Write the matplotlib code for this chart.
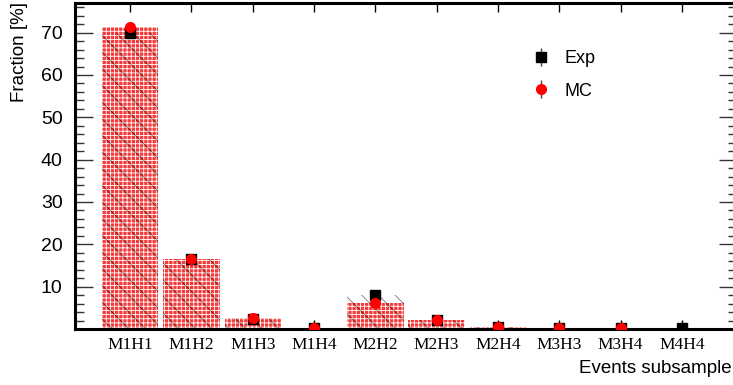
import numpy as np
import matplotlib
matplotlib.use("Agg")
import matplotlib.pyplot as plt

categories = ["M1H1", "M1H2", "M1H3", "M1H4", "M2H2", "M2H3", "M2H4", "M3H3", "M3H4", "M4H4"]
exp_vals = [70.0, 16.5, 2.3, 0.3, 8.0, 2.2, 0.4, 0.25, 0.2, 0.15]
mc_vals = [71.3, 16.5, 2.6, 0.25, 6.2, 2.1, 0.5, 0.3, 0.15, np.nan]
yticks = [10, 20, 30, 40, 50, 60, 70]

plt.rcParams['font.family'] = ['Liberation Sans', 'DejaVu Sans']
plt.rcParams['hatch.linewidth'] = 0.6

fig = plt.figure(figsize=(7.33, 3.85), dpi=100)
ax = fig.add_axes([75/733, 56/385, 662/733, 326/385])

x = np.arange(len(categories))
mc_bar = np.nan_to_num(np.array(mc_vals, dtype=float))
exp_bar = np.array(exp_vals, dtype=float)

ax.bar(x, mc_bar, width=0.92, color='#f53a3a', edgecolor='white', linewidth=0,
       hatch='++++', zorder=2)
ax.bar(x, exp_bar, width=0.92, color='none', edgecolor='black', linewidth=0,
       hatch='\\\\', zorder=3, alpha=0.55)

ax.plot(x, exp_vals, 's', color='black', markersize=6.5, zorder=5)
ax.plot(x, mc_vals, 'o', color='red', markersize=7, zorder=6)

# legend handles
h1 = ax.errorbar([], [], yerr=[], fmt='s', color='black', ecolor='#444444',
                 markersize=6.5, elinewidth=1)
h2 = ax.errorbar([], [], yerr=[], fmt='o', color='red', ecolor='#444444',
                 markersize=7, elinewidth=1)
ax.legend([h1, h2], ["Exp", "MC"], frameon=False, fontsize=13,
          loc='upper left', bbox_to_anchor=(0.665, 0.905), labelspacing=0.85,
          handlelength=1.0, handletextpad=0.85)

ax.set_xlim(-0.9, 9.9)
ax.set_ylim(0, 77)
ax.set_xticks(x)
ax.set_xticklabels(categories, fontfamily=['Liberation Serif'], fontsize=12.5)
ax.set_yticks(yticks)
ax.set_yticks(np.arange(0, 78, 2), minor=True)
ax.tick_params(axis='y', which='major', direction='in', length=13, width=1,
               right=True, labelsize=14, pad=9, color='#333333')
ax.tick_params(axis='y', which='minor', direction='in', length=6.5, width=1,
               right=True, color='#333333')
ax.tick_params(axis='x', which='major', direction='in', length=6.5, width=1,
               top=True, labelsize=12.5, pad=6)
ax.tick_params(axis='x', which='minor', bottom=False, top=False)
for s in ['left', 'bottom', 'top']:
    ax.spines[s].set_linewidth(2.2)
ax.spines['right'].set_linewidth(1)

fig.text(20/733, 0.995, "Fraction [%]", rotation=90, ha='center', va='top', fontsize=13.5)
fig.text(0.998, 0.042, "Events subsample", ha='right', va='center', fontsize=13.5)

fig.savefig("out.png", dpi=100)
